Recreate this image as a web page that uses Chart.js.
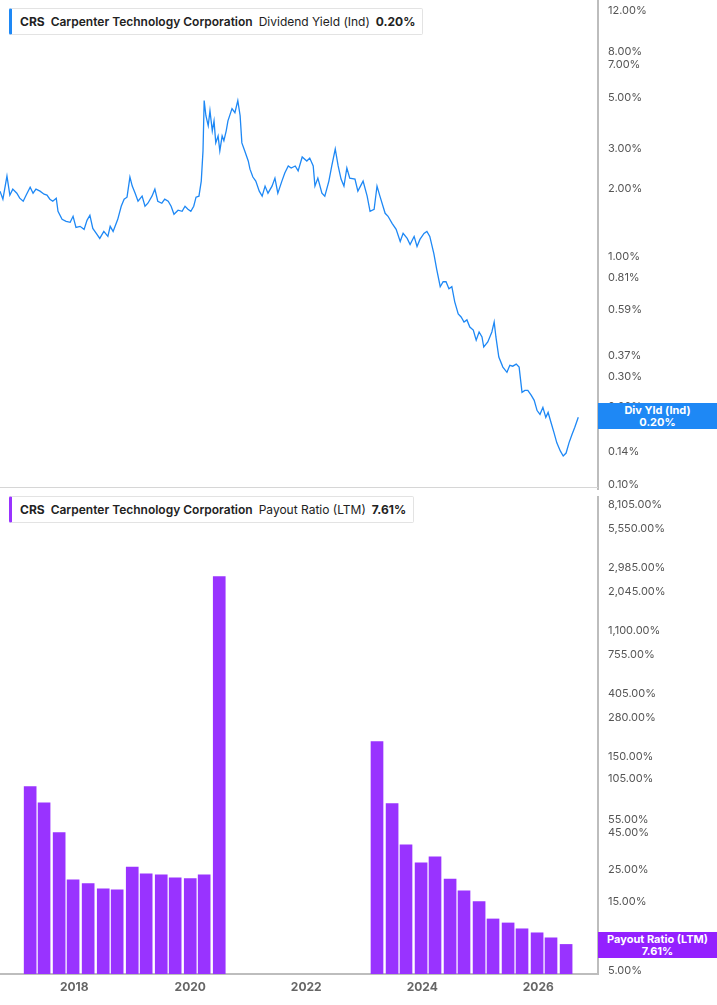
<!DOCTYPE html>
<html><head><meta charset="utf-8">
<script src="https://cdn.jsdelivr.net/npm/chart.js@4.4.1/dist/chart.umd.min.js"></script>
<style>
body{margin:0;width:717px;height:1005px;background:#fff;font-family:Inter,sans-serif;position:relative;overflow:hidden}
#c1{position:absolute;left:0;top:0}
#c2{position:absolute;left:0;top:490px}
.leg{position:absolute;left:9px;height:25px;background:#fff;border:1px solid #e3e3e3;border-left:3px solid #1e88f5;font-size:12px;line-height:25px;padding:0 7px 0 8px;color:#222;white-space:nowrap;border-radius:2px}
.leg b{font-weight:700}.leg .s{font-weight:600;margin:0 6px 0 6px}.leg .r{margin-right:6px}
.badge{position:absolute;left:598px;width:119px;height:26px;color:#fff;font-weight:700;font-size:11px;line-height:12px;text-align:center;padding-top:1px;box-sizing:border-box}
#hsep{position:absolute;left:0;top:487px;width:598px;height:1px;background:#d6d6d6}
</style></head><body>
<canvas id="c1" width="717" height="490"></canvas>
<canvas id="c2" width="717" height="515"></canvas>
<div id="hsep"></div>
<div class="leg" style="top:8px"><b>CRS</b><span class="s">Carpenter Technology Corporation</span><span class="r">Dividend Yield (Ind)</span><b>0.20%</b></div>
<div class="leg" style="top:496px;border-left-color:#9933ff"><b>CRS</b><span class="s">Carpenter Technology Corporation</span><span class="r">Payout Ratio (LTM)</span><b>7.61%</b></div>
<div class="badge" style="top:403px;background:#1e88f5">Div Yld (Ind)<br>0.20%</div>
<div class="badge" style="top:932px;background:#9420ff">Payout Ratio (LTM)<br>7.61%</div>
<script>
const yieldDates=[2016.72,2016.77,2016.84,2016.89,2016.94,2017.01,2017.06,2017.12,2017.17,2017.24,2017.29,2017.34,2017.41,2017.48,2017.53,2017.58,2017.63,2017.69,2017.72,2017.79,2017.86,2017.93,2017.98,2018.03,2018.10,2018.17,2018.22,2018.27,2018.32,2018.38,2018.44,2018.51,2018.58,2018.62,2018.67,2018.75,2018.81,2018.86,2018.91,2018.96,2019.00,2019.05,2019.10,2019.17,2019.22,2019.27,2019.34,2019.39,2019.44,2019.51,2019.56,2019.62,2019.67,2019.72,2019.79,2019.86,2019.91,2019.96,2020.01,2020.06,2020.10,2020.15,2020.19,2020.22,2020.24,2020.27,2020.31,2020.34,2020.38,2020.41,2020.44,2020.48,2020.51,2020.55,2020.58,2020.62,2020.65,2020.72,2020.77,2020.82,2020.86,2020.89,2020.94,2021.00,2021.03,2021.08,2021.13,2021.19,2021.24,2021.29,2021.34,2021.41,2021.46,2021.51,2021.58,2021.63,2021.69,2021.74,2021.81,2021.86,2021.93,2022.01,2022.06,2022.12,2022.15,2022.20,2022.27,2022.32,2022.39,2022.44,2022.50,2022.55,2022.60,2022.65,2022.70,2022.75,2022.84,2022.89,2022.98,2023.05,2023.10,2023.17,2023.22,2023.27,2023.36,2023.41,2023.48,2023.55,2023.62,2023.67,2023.74,2023.79,2023.86,2023.91,2023.96,2024.03,2024.08,2024.13,2024.20,2024.25,2024.31,2024.36,2024.41,2024.46,2024.51,2024.56,2024.62,2024.67,2024.72,2024.77,2024.82,2024.88,2024.93,2024.98,2025.03,2025.06,2025.13,2025.20,2025.24,2025.27,2025.32,2025.39,2025.46,2025.51,2025.56,2025.62,2025.67,2025.72,2025.77,2025.82,2025.88,2025.93,2025.98,2026.03,2026.08,2026.13,2026.17,2026.22,2026.27,2026.32,2026.38,2026.43,2026.48,2026.53,2026.58,2026.63,2026.69];
const yieldValues=[1.946,1.795,2.267,1.869,1.986,1.907,1.813,1.758,1.869,2.027,1.907,1.986,1.946,1.888,1.869,1.795,1.758,1.813,1.588,1.464,1.435,1.420,1.510,1.350,1.364,1.323,1.449,1.525,1.336,1.270,1.207,1.296,1.232,1.364,1.296,1.464,1.671,1.795,1.831,2.244,2.048,1.907,1.758,1.850,1.671,1.723,1.850,1.986,1.758,1.723,1.795,1.758,1.671,1.540,1.605,1.588,1.671,1.621,1.588,1.671,1.831,1.850,2.154,2.923,4.86,4.17,3.77,4.39,3.58,3.96,3.17,3.40,2.923,3.40,3.24,3.58,3.96,4.48,4.30,4.86,4.17,3.17,2.923,2.64,2.43,2.244,2.154,1.946,1.850,2.048,1.907,2.048,2.22,1.907,2.154,2.34,2.51,2.46,2.51,2.39,2.75,2.64,2.72,2.51,2.048,2.22,1.907,1.850,2.154,2.51,2.98,2.51,2.20,2.048,2.46,2.22,2.20,1.946,2.154,1.850,1.588,1.621,2.048,1.850,1.556,1.510,1.406,1.323,1.171,1.270,1.207,1.136,1.232,1.113,1.195,1.270,1.296,1.232,1.036,0.881,0.741,0.779,0.779,0.726,0.741,0.636,0.563,0.546,0.519,0.530,0.493,0.478,0.432,0.469,0.446,0.403,0.424,0.469,0.519,0.446,0.364,0.329,0.312,0.335,0.332,0.339,0.329,0.255,0.260,0.260,0.247,0.235,0.212,0.204,0.219,0.198,0.208,0.188,0.170,0.153,0.141,0.134,0.138,0.153,0.166,0.179,0.198];
const payoutDates=[2017.24,2017.48,2017.74,2017.98,2018.24,2018.50,2018.74,2019.00,2019.24,2019.50,2019.74,2020.00,2020.24,2020.50,2023.22,2023.48,2023.72,2023.98,2024.22,2024.48,2024.72,2024.98,2025.22,2025.48,2025.72,2025.98,2026.22,2026.48];
const payoutValues=[93,72,44.8,21.2,20,18.4,18.1,26,23.3,23,21.9,21.6,23,2606,190,71,37,27.8,30.6,21.5,17.8,15,11.4,10.7,9.75,9.15,8.45,7.61];
const yieldTicks=[12,8,7,5,3,2,1,0.81,0.59,0.37,0.3,0.22,0.14,0.10];
const payoutTicks=[8105,5550,2985,2045,1100,755,405,280,150,105,55,45,25,15,5];
const yearTicks=[2018,2020,2022,2024,2026];

const XMIN=2016.72, XMAX=2027.03;
const fmt=v=>v.toLocaleString('en-US',{minimumFractionDigits:2,maximumFractionDigits:2})+'%';
function yAxis(min,max,ticks){
  return {type:'logarithmic',position:'right',min,max,
    afterBuildTicks:s=>{s.ticks=ticks.map(v=>({value:v}));},
    afterFit:s=>{s.width=119;s.paddingTop=0;s.paddingBottom=0;},
    grid:{display:false,drawOnChartArea:false,drawTicks:true,tickLength:4,tickColor:'#777'},
    border:{display:true,color:'#bdbdbd',width:2},
    ticks:{callback:v=>fmt(v),color:'#555',padding:6,autoSkip:false,font:{family:'Inter',size:11}}};
}
Chart.defaults.animation=false;
new Chart(document.getElementById('c1'),{type:'line',
  data:{datasets:[{data:yieldDates.map((d,i)=>({x:d,y:yieldValues[i]})),borderColor:'#1e88f5',borderWidth:1.3,pointRadius:0,tension:0}]},
  options:{responsive:false,layout:{padding:0},plugins:{legend:{display:false},tooltip:{enabled:false}},
    scales:{x:{type:'linear',min:XMIN,max:XMAX,display:false},y:yAxis(0.095,13.43,yieldTicks)}}});
new Chart(document.getElementById('c2'),{type:'bar',
  data:{datasets:[{data:payoutDates.map((d,i)=>({x:d,y:payoutValues[i]})),backgroundColor:'#9933ff',barThickness:12}]},
  options:{responsive:false,layout:{padding:{top:7}},plugins:{legend:{display:false},tooltip:{enabled:false}},
    scales:{x:{type:'linear',min:XMIN,max:XMAX,offset:false,
      afterBuildTicks:s=>{s.ticks=yearTicks.map(v=>({value:v}));},
      afterFit:s=>{s.height=31;s.paddingLeft=0;s.paddingRight=0;},
      grid:{display:false,offset:false,drawTicks:true,tickLength:3,tickColor:'#999'},border:{display:true,color:'#bdbdbd',width:2},
      ticks:{callback:v=>String(v),color:'#666',padding:3,font:{family:'Inter',size:12,weight:'bold'},maxRotation:0}},
    y:yAxis(4.76,9212,payoutTicks)}}});
</script>
</body></html>
